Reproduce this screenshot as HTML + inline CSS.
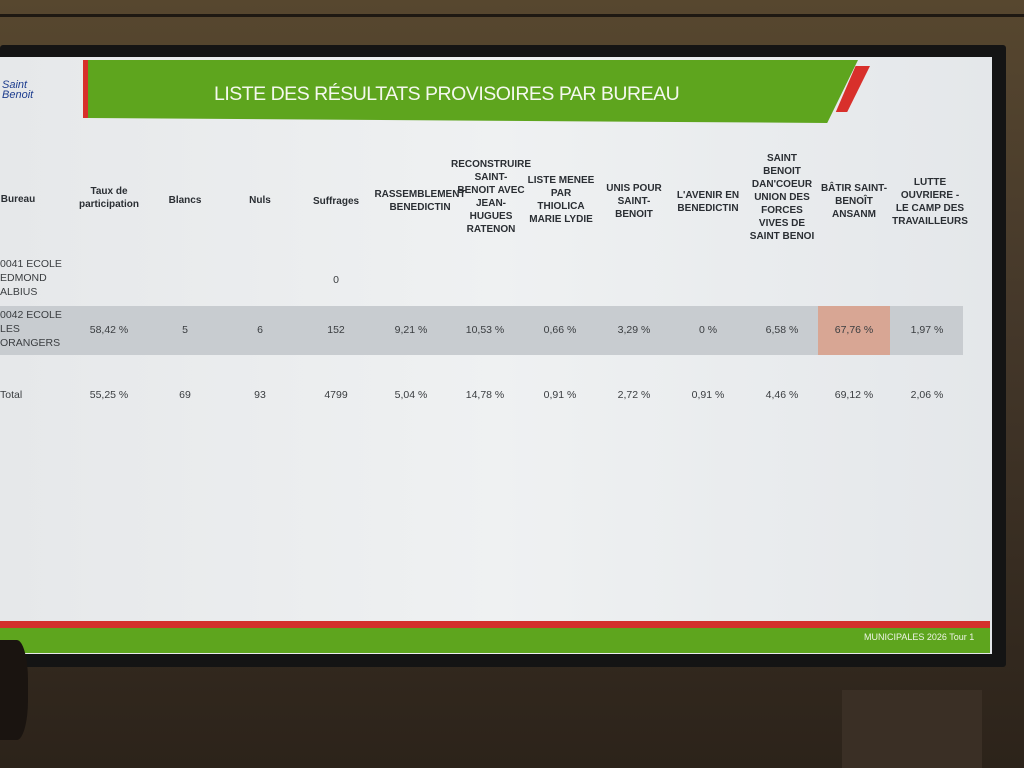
<!DOCTYPE html>
<html><head><meta charset="utf-8"><style>
body{margin:0;width:1024px;height:768px;overflow:hidden;background:linear-gradient(#57472f,#45382a 40%,#2c231a);font-family:"Liberation Sans",sans-serif;position:relative}
.a{position:absolute}
.h{position:absolute;font-size:10px;font-weight:bold;color:#2a2e33;text-align:center;line-height:13px;transform:translateX(-50%)}
.c{position:absolute;font-size:10.5px;color:#3a3d40;transform:translateX(-50%)}
</style></head><body>
<div class="a" style="left:0;top:14px;width:1024px;height:3px;background:#1e1812"></div>
<div class="a" style="left:0;top:45px;width:1006px;height:622px;background:#141414;border-radius:3px"></div>
<div class="a" style="left:0;top:57px;width:992px;height:597px;background:linear-gradient(90deg,#e6e8ea,#eff1f2 50%,#e4e7ea)"></div>
<div class="a" style="left:83px;top:60px;width:5px;height:58px;background:#d8302b"></div>
<div class="a" style="left:88px;top:60px;width:770px;height:63px;background:#5ea51e;clip-path:polygon(0 0,100% 0,96% 100%,0 92%)"></div>
<div class="a" style="left:832px;top:66px;width:38px;height:46px;background:#d8302b;clip-path:polygon(62% 0,100% 0,40% 100%,10% 100%)"></div>
<div class="a" style="left:214px;top:83px;color:#f4f8ee;font-size:19.5px;letter-spacing:-0.5px">LISTE DES RÉSULTATS PROVISOIRES PAR BUREAU</div>
<div class="a" style="left:2px;top:80px;color:#1d3d8f;font-size:11px;font-style:italic;line-height:10px">Saint<br>Benoit</div>
<div class="h" style="left:18px;top:193px">Bureau</div>
<div class="h" style="left:109px;top:185px">Taux de<br>participation</div>
<div class="h" style="left:185px;top:194px">Blancs</div>
<div class="h" style="left:260px;top:194px">Nuls</div>
<div class="h" style="left:336px;top:195px">Suffrages</div>
<div class="h" style="left:420px;top:188px">RASSEMBLEMENT<br>BENEDICTIN</div>
<div class="h" style="left:491px;top:158px">RECONSTRUIRE<br>SAINT-<br>BENOIT AVEC<br>JEAN-<br>HUGUES<br>RATENON</div>
<div class="h" style="left:561px;top:174px">LISTE MENEE<br>PAR<br>THIOLICA<br>MARIE LYDIE</div>
<div class="h" style="left:634px;top:182px">UNIS POUR<br>SAINT-<br>BENOIT</div>
<div class="h" style="left:708px;top:189px">L'AVENIR EN<br>BENEDICTIN</div>
<div class="h" style="left:782px;top:152px">SAINT<br>BENOIT<br>DAN'COEUR<br>UNION DES<br>FORCES<br>VIVES DE<br>SAINT BENOI</div>
<div class="h" style="left:854px;top:182px">BÂTIR SAINT-<br>BENOÎT<br>ANSANM</div>
<div class="h" style="left:930px;top:176px">LUTTE<br>OUVRIERE -<br>LE CAMP DES<br>TRAVAILLEURS</div>
<div class="a" style="left:0;top:257px;font-size:10.5px;color:#3a3d40;line-height:14px">0041 ECOLE<br>EDMOND<br>ALBIUS</div>
<div class="c" style="left:336px;top:274px">0</div>
<div class="a" style="left:0;top:306px;width:963px;height:49px;background:#c8ccd0"></div>
<div class="a" style="left:818px;top:306px;width:72px;height:49px;background:#d8a694"></div>
<div class="a" style="left:0;top:308px;font-size:10.5px;color:#3a3d40;line-height:14px">0042 ECOLE<br>LES<br>ORANGERS</div>
<div class="c" style="left:109px;top:324px">58,42 %</div><div class="c" style="left:185px;top:324px">5</div><div class="c" style="left:260px;top:324px">6</div><div class="c" style="left:336px;top:324px">152</div><div class="c" style="left:411px;top:324px">9,21 %</div><div class="c" style="left:485px;top:324px">10,53 %</div><div class="c" style="left:560px;top:324px">0,66 %</div><div class="c" style="left:634px;top:324px">3,29 %</div><div class="c" style="left:708px;top:324px">0 %</div><div class="c" style="left:782px;top:324px">6,58 %</div><div class="c" style="left:854px;top:324px">67,76 %</div><div class="c" style="left:927px;top:324px">1,97 %</div>
<div class="a" style="left:0;top:389px;font-size:10.5px;color:#3a3d40">Total</div>
<div class="c" style="left:109px;top:389px">55,25 %</div><div class="c" style="left:185px;top:389px">69</div><div class="c" style="left:260px;top:389px">93</div><div class="c" style="left:336px;top:389px">4799</div><div class="c" style="left:411px;top:389px">5,04 %</div><div class="c" style="left:485px;top:389px">14,78 %</div><div class="c" style="left:560px;top:389px">0,91 %</div><div class="c" style="left:634px;top:389px">2,72 %</div><div class="c" style="left:708px;top:389px">0,91 %</div><div class="c" style="left:782px;top:389px">4,46 %</div><div class="c" style="left:854px;top:389px">69,12 %</div><div class="c" style="left:927px;top:389px">2,06 %</div>
<div class="a" style="left:0;top:621px;width:990px;height:7px;background:#d3302c"></div>
<div class="a" style="left:0;top:628px;width:990px;height:25px;background:#5ea51e"></div>
<div class="a" style="left:864px;top:632px;color:#eef4e6;font-size:9px">MUNICIPALES 2026 Tour 1</div>
<div class="a" style="left:0;top:640px;width:28px;height:100px;background:#1a1410;border-radius:0 40% 40% 0"></div>
<div class="a" style="left:842px;top:690px;width:140px;height:78px;background:#3a2f25"></div>
</body></html>
